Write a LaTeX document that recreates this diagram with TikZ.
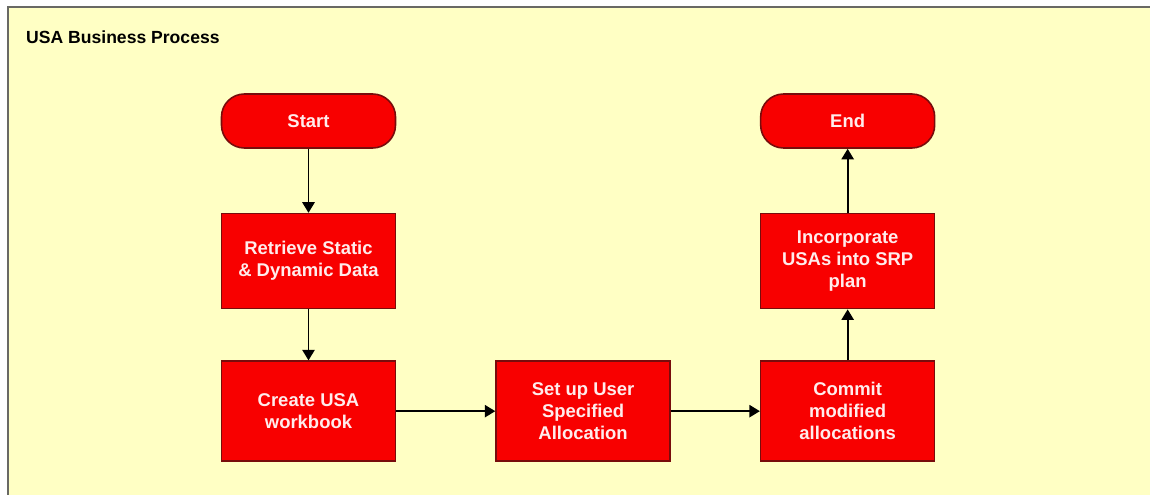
\documentclass[tikz,border=0pt]{standalone}
\usepackage{fontspec}
\setmainfont{Liberation Sans}
\usetikzlibrary{positioning,arrows.meta}
\definecolor{paleyellow}{RGB}{255,255,196}
\definecolor{boxred}{RGB}{248,0,0}
\definecolor{boxedge}{RGB}{120,12,12}
\definecolor{framegray}{RGB}{105,105,100}
\definecolor{boxtext}{RGB}{255,236,236}

\begin{document}
\begin{tikzpicture}[>={Triangle[length=6pt,width=7pt]}, node distance=1cm, auto,
    process/.style={rectangle, draw=boxedge, fill=boxred, line width=0.9pt, text=boxtext,
        font=\bfseries\fontsize{10.5}{12.5}\selectfont, align=center,
        minimum width=3.48cm, minimum height=1.9cm},
    terminal/.style={process, rounded corners=13pt, minimum height=1.08cm}]
        % Frame
        \useasboundingbox (0,0) rectangle (23,-9.9);
        \fill[paleyellow] (0.16,-0.14) rectangle (23,-9.9);
        \draw[framegray, line width=1.2pt] (0.16,-9.9) |- (23,-0.14);
        \node[anchor=west, font=\bfseries\fontsize{10}{12}\selectfont] (title) at (0.4,-0.74) {USA Business Process};

        % Nodes
        \node[terminal] (start) at (6.17,-2.42) {Start};
        \node[process, below=1.28cm of start] (retrieve) {Retrieve Static\\\& Dynamic Data};
        \node[process, below=1.02cm of retrieve, minimum height=2cm] (create) {Create USA\\workbook};
        \node[process, right=1.98cm of create, minimum height=2cm] (setup) {Set up User\\Specified\\Allocation};
        \node[process, right=1.78cm of setup, minimum height=2cm] (commit) {Commit\\modified\\allocations};
        \node[process, above=1.02cm of commit] (incorporate) {Incorporate\\USAs into SRP\\plan};
        \node[terminal, above=1.28cm of incorporate] (finish) {End};

        % Arrows
        \draw[->, line width=1pt] (start) -- (retrieve);
        \draw[->, line width=1pt] (retrieve) -- (create);
        \draw[->, line width=1pt] (create) -- (setup);
        \draw[->, line width=1pt] (setup) -- (commit);
        \draw[->, line width=1pt] (commit) -- (incorporate);
        \draw[->, line width=1pt] (incorporate) -- (finish);
    \end{tikzpicture}
\end{document}
